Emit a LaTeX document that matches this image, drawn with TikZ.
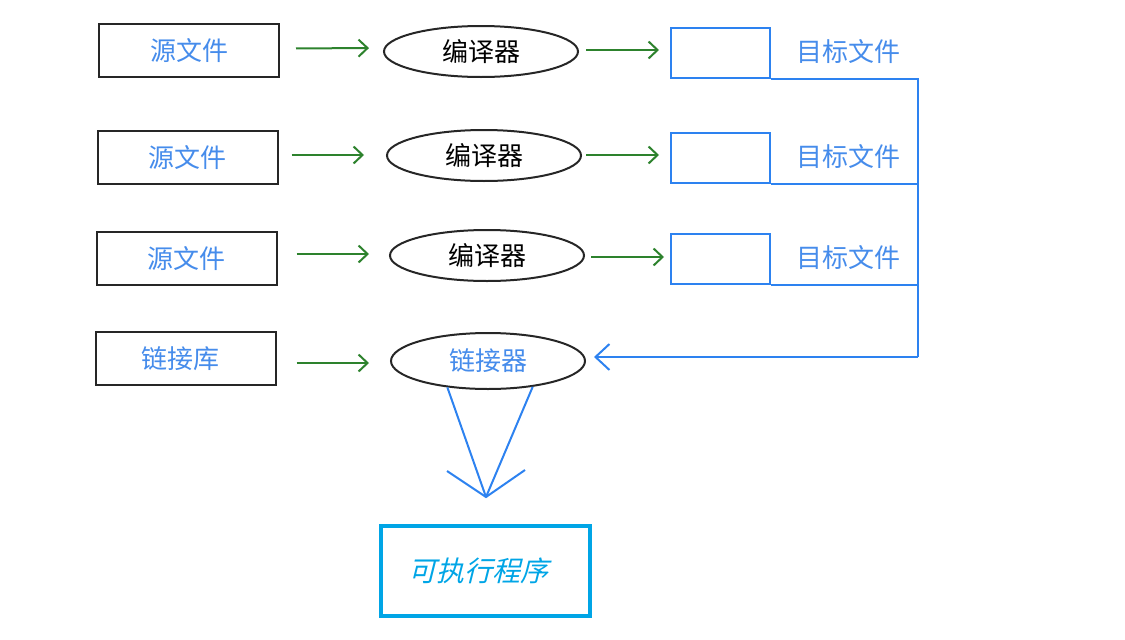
\documentclass[tikz,border=0pt]{standalone}
\usepackage{fontspec}
\setmainfont{Noto Sans CJK SC}
\newfontfamily\exefont[FakeSlant=0.25]{Noto Sans CJK SC}
\usetikzlibrary{arrows.meta, shapes.geometric}
\definecolor{srcblue}{RGB}{70,140,235}
\definecolor{lineblue}{RGB}{45,130,240}
\definecolor{arrgreen}{RGB}{45,130,45}
\definecolor{exeblue}{RGB}{0,165,230}

\tikzset{
  srcbox/.style={draw=black!85, line width=2pt, minimum width=180pt,
    minimum height=53pt, inner sep=0pt, text=srcblue},
  comp/.style={ellipse, draw=black!85, line width=2pt, minimum width=194pt,
    minimum height=51pt, inner sep=0pt},
  objbox/.style={draw=lineblue, line width=2pt, minimum width=99pt,
    minimum height=50pt, inner sep=0pt},
  objlbl/.style={text=srcblue},
  garrow/.style={arrgreen, line width=2pt,
    -{Straight Barb[length=9pt,width=17pt]}},
  bline/.style={lineblue, line width=2pt},
}

\begin{document}
\begin{tikzpicture}[x=1pt, y=-1pt, font=\fontsize{26pt}{30pt}\selectfont]
    \useasboundingbox (0,0) rectangle (1125,640);

    % sources -> compilers -> object files
    \node[srcbox] (s1) at (189,50.5) {源文件};
    \node[srcbox] (s2) at (187.5,157.5) {源文件};
    \node[srcbox] (s3) at (186.5,258.5) {源文件};
    \node[srcbox] (lib) at (185.5,358.5) {链接库\kern10pt};

    \node[comp] (c1) at (481,51.5) {编译器};
    \node[comp] (c2) at (484,155.5) {编译器};
    \node[comp] (c3) at (487,255.5) {编译器};
    \node[comp, text=srcblue, minimum height=56pt] (link) at (488,361) {链接器};

    \node[objbox] (t1) at (720.5,53) {};
    \node[objbox] (t2) at (720.5,157.5) {};
    \node[objbox] (t3) at (720.5,258.5) {};
    \node[objlbl] (l1) at (848,52) {目标文件};
    \node[objlbl] (l2) at (848,157) {目标文件};
    \node[objlbl] (l3) at (848,258) {目标文件};

    \node[draw=exeblue, line width=3.5pt, minimum width=209pt, minimum height=90pt,
      text=exeblue, font=\exefont\fontsize{28pt}{32pt}\selectfont] (exe) at (485.5,571) {可执行程序\kern14pt};

    \coordinate (bus) at (918,357);
    \coordinate (tip) at (486,497);

    \draw[garrow, shorten <=16pt, shorten >=14pt] (s1.east) ++(0,-2) -- (c1.west |- 0,48);
    \draw[garrow, shorten <=13pt, shorten >=22pt] (s2.east |- 0,155) -- (c2.west |- 0,155);
    \draw[garrow, shorten <=19pt, shorten >=20pt] (s3.east |- 0,254) -- (c3.west |- 0,254);
    \draw[garrow, shorten <=20pt, shorten >=21pt] (lib.east |- 0,363) -- (link.west |- 0,363);

    \draw[garrow, shorten <=7pt, shorten >=11pt] (c1.east |- 0,50) -- (t1.west |- 0,50);
    \draw[garrow, shorten <=4pt, shorten >=11pt] (c2.east |- 0,155) -- (t2.west |- 0,155);
    \draw[garrow, shorten <=6pt, shorten >=6pt] (c3.east |- 0,257) -- (t3.west |- 0,257);

    % object files -> linker
    \draw[bline] (t1.south east) -- (t1.south east -| bus) -- (bus);
    \draw[bline] (t2.south east) -- (t2.south east -| bus);
    \draw[bline] (t3.south east) -- (t3.south east -| bus);
    \draw[bline, -{Straight Barb[length=14pt,width=26pt]}, shorten >=8pt] (bus) -- (bus -| link.east);

    % linker -> executable
    \draw[bline] (link.213) -- (tip);
    \draw[bline] (link.330) -- (tip);
    \draw[bline] (tip) ++(-39,-26) -- (tip) -- ++(39,-27);

  \end{tikzpicture}
\end{document}
